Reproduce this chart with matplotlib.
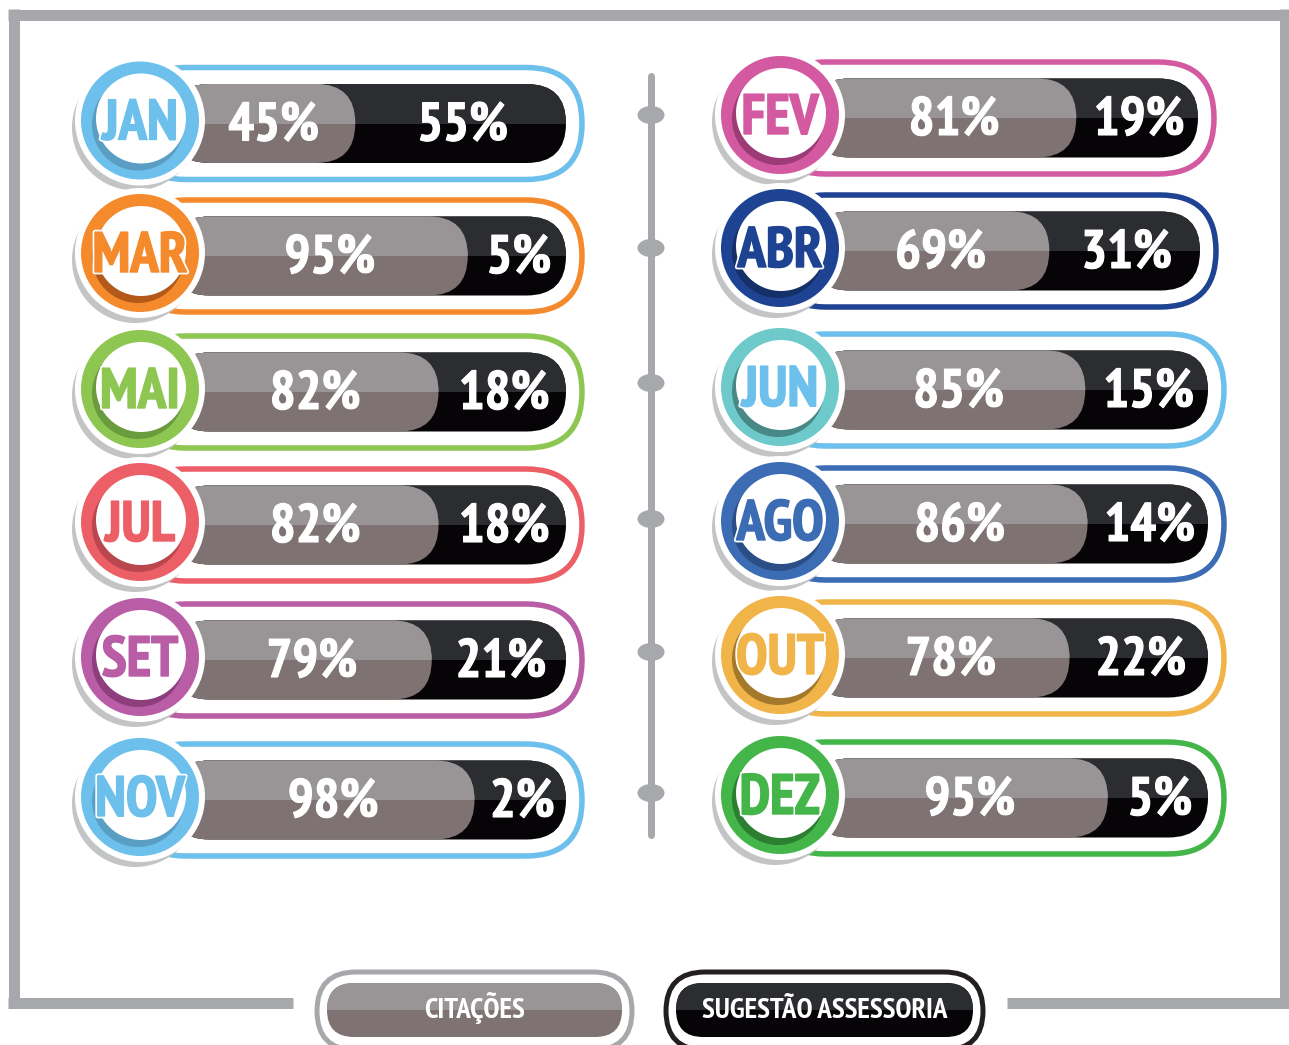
import matplotlib
matplotlib.use("Agg")
import matplotlib.pyplot as plt
from matplotlib.patches import FancyBboxPatch, Circle, Ellipse, Rectangle
from matplotlib.lines import Line2D
import matplotlib.patheffects as pe
from matplotlib import font_manager as fm

# ---------------- data ----------------
months_left = ["JAN", "MAR", "MAI", "JUL", "SET", "NOV"]
citacoes_left = [45, 95, 82, 82, 79, 98]
sugestao_left = [55, 5, 18, 18, 21, 2]

months_right = ["FEV", "ABR", "JUN", "AGO", "OUT", "DEZ"]
citacoes_right = [81, 69, 85, 86, 78, 95]
sugestao_right = [19, 31, 15, 14, 22, 5]

legend_labels = ["CITAÇÕES", "SUGESTÃO ASSESSORIA"]

# ---------------- styles ----------------
ring_left = ["#6CC0EB", "#F48A2C", "#8DC752", "#EC5F67", "#B95DA6", "#6CC0EB"]
dark_left = ["#5A9EC4", "#B3591A", "#6A9C3E", "#B9474D", "#8C3F7C", "#5A9EC4"]
text_left = ring_left
line_left = ring_left

ring_right = ["#D35AA0", "#1E4392", "#6ECACA", "#3C6CB4", "#F0B449", "#44B649"]
dark_right = ["#9D3B77", "#152F68", "#488987", "#2A4E85", "#A4792B", "#2C7E31"]
text_right = ["#D35AA0", "#1E4392", "#6CC0EB", "#3C6CB4", "#F0B449", "#44B649"]
line_right = ["#D35AA0", "#1E4392", "#6CC0EB", "#3C6CB4", "#F0B449", "#44B649"]

GRAY_TOP, GRAY_BOT = "#999596", "#7E7273"
DARK_TOP, DARK_BOT = "#2B2D30", "#060407"
FRAME = "#A7A8AB"

avail = {f.name for f in fm.fontManager.ttflist}
FONT = [f for f in ["PT Sans Narrow", "Open Sans Condensed", "DejaVu Sans"] if f in avail] or ["DejaVu Sans"]
if "DejaVu Sans" not in FONT:
    FONT.append("DejaVu Sans")

W, H = 1289, 1045
fig = plt.figure(figsize=(W / 100, H / 100), dpi=100)
ax = fig.add_axes([0, 0, 1, 1])
ax.set_xlim(0, W)
ax.set_ylim(H, 0)
ax.axis("off")

PX = 72 / 100  # points per pixel


def bold_fx(col, w):
    return [pe.Stroke(linewidth=w, foreground=col), pe.Normal()]


def pill(x0, x1, yc, h, fc, ec="none", lw=0, z=1):
    p = FancyBboxPatch((x0, yc - h / 2), x1 - x0, h,
                       boxstyle=f"round,pad=0,rounding_size={h / 2}",
                       fc=fc, ec=ec, lw=lw, zorder=z)
    ax.add_patch(p)
    return p


def two_tone(x0, x1, yc, h, top, bot, z):
    base = pill(x0, x1, yc, h, bot, z=z)
    r = Rectangle((x0 - 5, yc - h / 2 - 2), x1 - x0 + 10, h / 2 + 2, fc=top, ec="none", zorder=z + 0.01)
    ax.add_patch(r)
    r.set_clip_path(base)
    return base


# scale from percentage to bar split position (relative to circle centre)
SPLIT0, SPLIT_PER = 114, 2.25


def row(cx, yc, month, cit, sug, ring, dark, tcol, lcol, right_end):
    # outer outline pill
    pill(cx - 10, right_end, yc, 112, "white", lcol, 5.5 * PX, z=2)
    # track
    bar_l, bar_r = cx + 30, right_end - 16
    bh = 79
    two_tone(bar_l, bar_r, yc, bh, DARK_TOP, DARK_BOT, 3)
    split = cx + SPLIT0 + SPLIT_PER * cit
    two_tone(bar_l, split, yc, bh, GRAY_TOP, GRAY_BOT, 4)
    base_y = yc + 17
    ax.text((cx + 52 + split) / 2, base_y, f"{cit}%", color="white", fontsize=39,
            fontweight="bold", family=FONT, ha="center", va="baseline", zorder=6,
            path_effects=bold_fx("white", 0.8))
    ax.text((split + bar_r) / 2 + 2, base_y, f"{sug}%", color="white", fontsize=39,
            fontweight="bold", family=FONT, ha="center", va="baseline", zorder=6,
            path_effects=bold_fx("white", 0.8))
    # medallion
    cy = yc - 3
    ax.add_patch(Circle((cx - 5, cy + 7), 63, fc="#C3C4C6", ec="none", zorder=7))
    ax.add_patch(Circle((cx, cy), 65, fc="white", ec="none", zorder=8))
    ax.add_patch(Circle((cx, cy), 59, fc=ring, ec="none", zorder=9))
    ax.add_patch(Circle((cx - 2, cy + 4), 46, fc=dark, ec="none", zorder=10))
    ax.add_patch(Circle((cx + 1, cy - 2), 45, fc="white", ec="none", zorder=11))
    ax.text(cx, cy + 19, month, color=tcol, fontsize=41, fontweight="bold", family=FONT,
            ha="center", va="baseline", zorder=12,
            path_effects=[pe.Stroke(linewidth=3.5, foreground="white"),
                          pe.Stroke(linewidth=1.0, foreground=tcol), pe.Normal()])


ys_left = [123.5, 256, 392, 525, 660, 800]
ys_right = [118, 251, 390, 524, 658, 798]
ends_right = [1214, 1216, 1224, 1224, 1224, 1224]

for i in range(6):
    row(140, ys_left[i], months_left[i], citacoes_left[i], sugestao_left[i],
        ring_left[i], dark_left[i], text_left[i], line_left[i], 582)
    row(780, ys_right[i], months_right[i], citacoes_right[i], sugestao_right[i],
        ring_right[i], dark_right[i], text_right[i], line_right[i], ends_right[i])

# central timeline
ax.add_line(Line2D([651, 651], [76, 835], color=FRAME, lw=7 * PX, solid_capstyle="round", zorder=1))
for y in [115, 248, 383, 519, 652, 793]:
    ax.add_patch(Ellipse((651, y), 27, 18, fc=FRAME, ec="none", zorder=1))

# frame
flw = 11 * PX
for xs, ys in [([13.5, 13.5], [9, 1003]), ([8, 1289], [14.5, 14.5]), ([1285, 1285], [9, 1003]),
               ([8, 293], [1003, 1003]), ([1007, 1289], [1003, 1003])]:
    ax.add_line(Line2D(xs, ys, color=FRAME, lw=flw, solid_capstyle="butt", zorder=0))

# legend
leg = [(315, 634, FRAME, GRAY_TOP, GRAY_BOT), (664, 985, "#231F20", DARK_TOP, DARK_BOT)]
for (x0, x1, ec, top, bot), lab in zip(leg, legend_labels):
    pill(x0 + 2, x1 - 2, 1011, 78, "white", ec, 5 * PX, z=2)
    two_tone(x0 + 12, x1 - 12, 1010, 54, top, bot, 3)
    ax.text((x0 + x1) / 2, 1018, lab, color="white", fontsize=21, fontweight="bold",
            family=FONT, ha="center", va="baseline", zorder=6)

fig.savefig("out.png", dpi=100)
